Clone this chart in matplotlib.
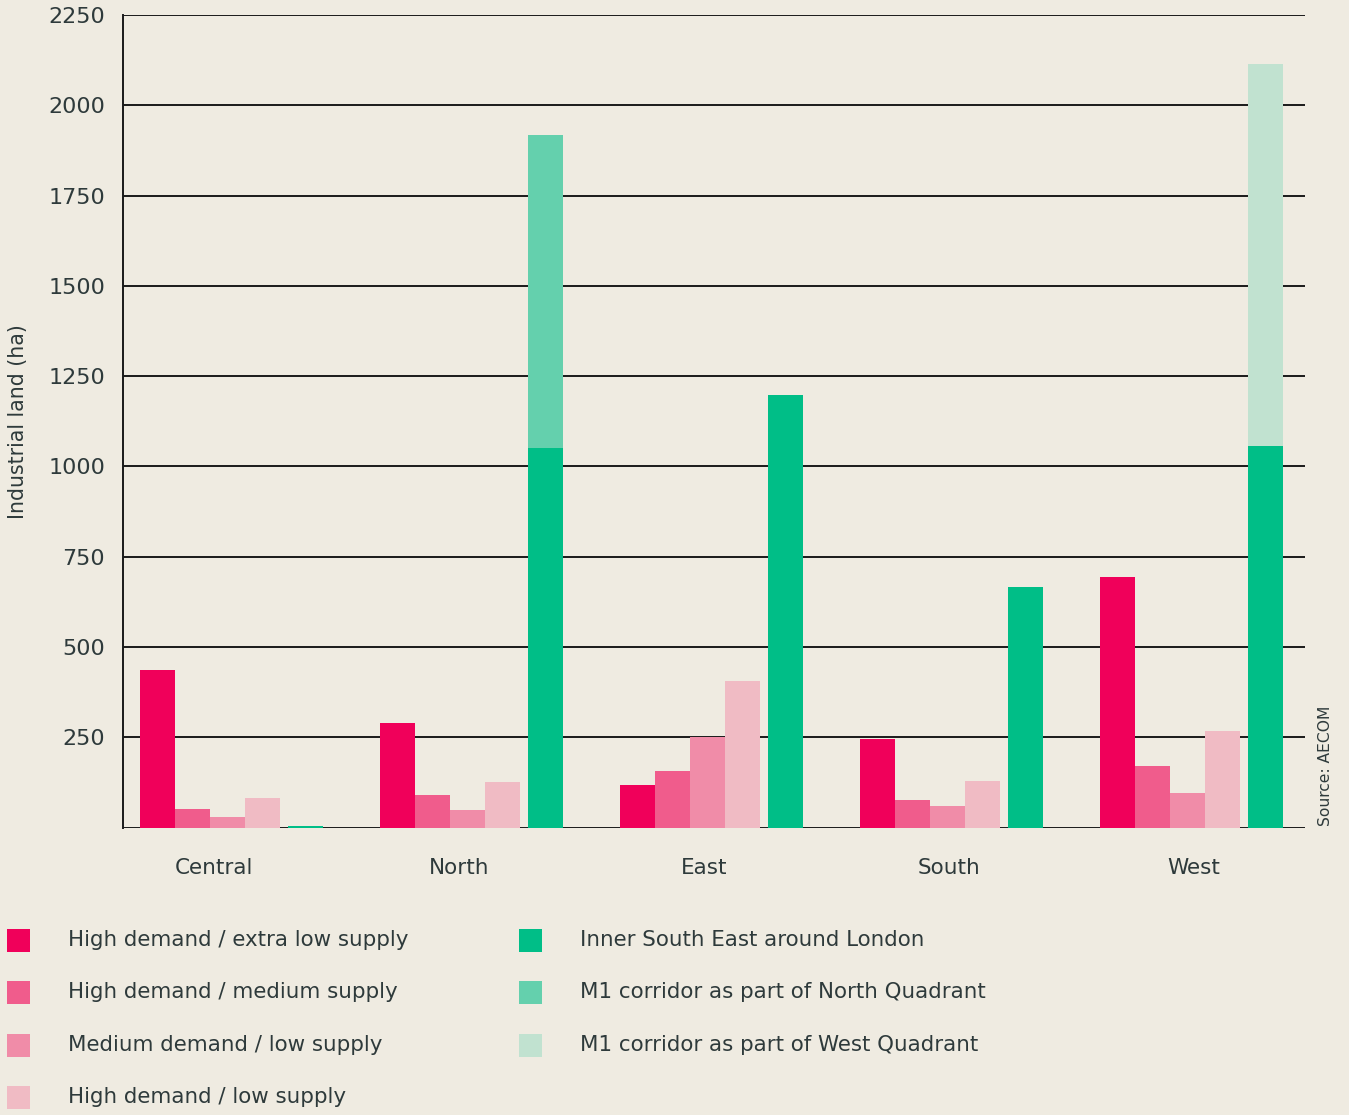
import numpy as np
import matplotlib
matplotlib.use("Agg")
import matplotlib.pyplot as plt
from matplotlib.patches import Rectangle

plt.rcParams['font.family'] = ['DejaVu Sans']

# data (ha)
regions = ["Central", "North", "East", "South", "West"]
high_extra_low = [437, 290, 118, 245, 694]
high_medium = [51, 90, 157, 76, 170]
medium_low = [29, 48, 251, 60, 96]
high_low = [82, 126, 406, 129, 267]
inner_south_east = [3, 1052, 1198, 666, 1057]
m1_north = [0, 867, 0, 0, 0]
m1_west = [0, 0, 0, 0, 1058]

pink_labels = ["High demand / extra low supply", "High demand / medium supply",
               "Medium demand / low supply", "High demand / low supply"]
green_labels = ["Inner South East around London", "M1 corridor as part of North Quadrant",
                "M1 corridor as part of West Quadrant"]

bg = "#EFEBE1"
txt = "#2E3A3B"
pink_cols = ["#F0005A", "#F05C8C", "#F08CA8", "#F0BBC4"]
green_cols = ["#00BE87", "#64D0AD", "#C1E2D0"]

fig = plt.figure(figsize=(13.49, 11.15), dpi=100, facecolor=bg)
ax = fig.add_axes([123/1349, 1-827.5/1115, (1305-123)/1349, (827.5-15)/1115])
ax.set_facecolor(bg)

x = np.arange(len(regions))
w = 35/240
for k, vals in enumerate([high_extra_low, high_medium, medium_low, high_low]):
    ax.bar(x + k*w, vals, width=w, align='edge', color=pink_cols[k], zorder=3)
gx = x + 4*w + 8/240
ax.bar(gx, inner_south_east, width=w, align='edge', color=green_cols[0], zorder=3)
ax.bar(gx, m1_north, width=w, align='edge', bottom=inner_south_east, color=green_cols[1], zorder=3)
ax.bar(gx, m1_west, width=w, align='edge', bottom=inner_south_east, color=green_cols[2], zorder=3)

ax.set_xlim(-17/240, (1305-140)/240)
ax.set_ylim(0, 2250)
ax.set_yticks(np.arange(250, 2251, 250))
ax.set_yticklabels([str(v) for v in range(250, 2251, 250)], fontsize=16, color=txt)
ax.set_xticks((214-140)/240 + x*245/240)
ax.set_xticklabels(regions, fontsize=15.5, color=txt)
ax.tick_params(axis='y', length=0, pad=13)
ax.tick_params(axis='x', length=0, pad=22)
for yv in np.arange(0, 2251, 250):
    ax.axhline(yv, color="#1A1A1A", lw=1.4, zorder=1)
for s in ["top", "right", "bottom"]:
    ax.spines[s].set_visible(False)
ax.spines["left"].set_color("#1A1A1A")
ax.spines["left"].set_linewidth(1.4)

ax.set_ylabel("Industrial land (ha)", fontsize=14.8, color=txt)
ax.yaxis.set_label_coords(-95/1182, 0.5)

fig.text(1325/1349, 1-826/1115, "Source: AECOM", rotation=90, fontsize=11.2,
         color=txt, ha='center', va='bottom')

# legend
def legend_item(xs, xt, yc, col, label):
    fig.add_artist(Rectangle((xs/1349, 1-(yc+11.5)/1115), 23/1349, 23/1115,
                             transform=fig.transFigure, color=col, lw=0))
    fig.text(xt/1349, 1-yc/1115, label, fontsize=15.4, color=txt, va='center', ha='left')

rows = [940, 992, 1045, 1097]
for k, lab in enumerate(pink_labels):
    legend_item(7, 68, rows[k], pink_cols[k], lab)
for k, lab in enumerate(green_labels):
    legend_item(519, 580, rows[k], green_cols[k], lab)

fig.savefig("out.png", dpi=100, facecolor=bg)
